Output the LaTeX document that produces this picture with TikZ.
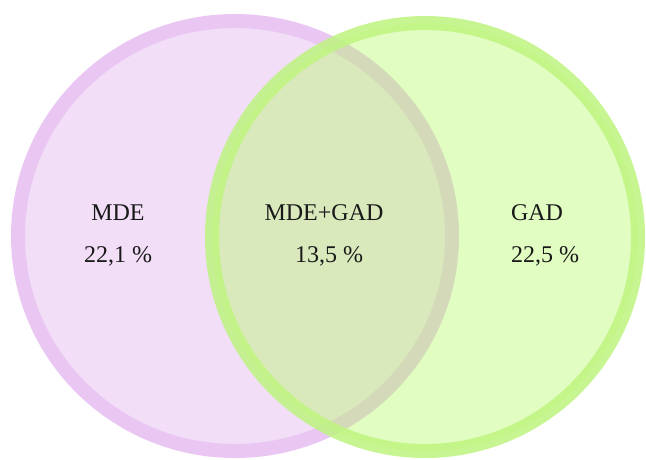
\documentclass[tikz,border=0pt]{standalone}
\usepackage{fontspec}
\setmainfont{Liberation Serif}
\definecolor{mdefill}{RGB}{242,222,247}
\definecolor{mdeline}{RGB}{234,198,243}
\definecolor{gadfill}{RGB}{180,250,100}
\definecolor{gadline}{RGB}{190,244,128}
\begin{document}
\begin{tikzpicture}[x=1pt,y=-1pt,
  setline/.style={line width=14pt},
  lbl/.style={font=\fontsize{24}{28}\selectfont, anchor=base, inner sep=0pt, text=black!90}]
\useasboundingbox (0,0) rectangle (646,459);
\fill[white] (0,0) rectangle (646,459);
% the two sets
\draw[setline, draw=mdeline, fill=mdefill] (235,236) ellipse [x radius=217, y radius=215];
\draw[setline, draw=gadline, draw opacity=0.85, fill=gadfill, fill opacity=0.4] (425,237) ellipse [x radius=213, y radius=214];
% labels
\node[lbl] (mde)    at (118,220) {MDE};
\node[lbl] (mdev)   at (118,262) {22,1 \%};
\node[lbl] (both)   at (324,220) {MDE+GAD};
\node[lbl] (bothv)  at (329,262) {13,5 \%};
\node[lbl] (gad)    at (537,220) {GAD};
\node[lbl] (gadv)   at (545,262) {22,5 \%};
\end{tikzpicture}
\end{document}
